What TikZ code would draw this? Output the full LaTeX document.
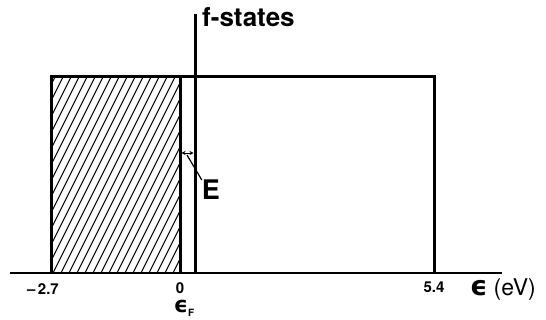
\documentclass[tikz,border=0pt]{standalone}
\usepackage{fontspec}
\setmainfont{TeX Gyre Heros}
\newfontfamily\dvs{DejaVu Sans}
\usetikzlibrary{arrows.meta}
\begin{document}
\begin{tikzpicture}[x=1pt,y=-1pt,
  heavy/.style={line width=3pt},
  hatch/.style={line width=1.1pt},
  lbl/.style={inner sep=0pt,font=\bfseries}]
\useasboundingbox (0,0) rectangle (546,320);
\coordinate (axL) at (10,273);
\coordinate (axR) at (502,273);
\coordinate (hTL) at (51,77);
\coordinate (hBR) at (180,273);
\coordinate (fB) at (195,273);
\coordinate (fT) at (195,14);
\coordinate (rTR) at (434,77);
\coordinate (rBR) at (434,273);
\begin{scope}
\clip (hTL) rectangle (hBR);
\foreach \i in {-110,-102,...,190} {
  \draw[hatch] (51+\i,273) -- (51+\i+98,77);
}
\end{scope}
\draw[line width=2pt] (axL) -- (axR);
\draw[heavy] (hTL |- hBR) -- (hTL) -- (rTR) -- (rBR);
\draw[heavy] (hBR) -- (hBR |- hTL);
\draw[heavy] (fB) -- (fT);
\coordinate (aL) at (181.5,153);
\coordinate (aR) at (193.5,153);
\draw[line width=0.9pt,{Stealth[length=4pt,width=4pt]}-{Stealth[length=4pt,width=4pt]}] (aL) -- (aR);
\node[lbl,font=\bfseries\fontsize{27}{29}\selectfont] (E) at (211,190) {E};
\coordinate (lead) at (187,155);
\draw[line width=1.2pt] (lead) -- (E.north west);
\node[lbl,font=\bfseries\fontsize{26}{28}\selectfont,anchor=west] (fs) at (202,17) {f-states};
\node[lbl,font=\bfseries\fontsize{15}{17}\selectfont] (m27) at (43,289) {–\,2.7};
\node[lbl,font=\bfseries\fontsize{15}{17}\selectfont] (z) at (180,288) {0};
\node[lbl,font=\bfseries\fontsize{15}{17}\selectfont] (f54) at (434,287) {5.4};
\node[lbl] (eF) at (184,308) {{\dvs\bfseries\fontsize{22}{24}\selectfont ϵ}\raisebox{-4pt}{\fontsize{10}{12}\selectfont F}};
\node[lbl,anchor=west] (eV) at (470,290) {{\dvs\bfseries\fontsize{27}{29}\selectfont ϵ}\hspace{6pt}{\mdseries\fontsize{23}{25}\selectfont (eV)}};
\end{tikzpicture}
\end{document}
